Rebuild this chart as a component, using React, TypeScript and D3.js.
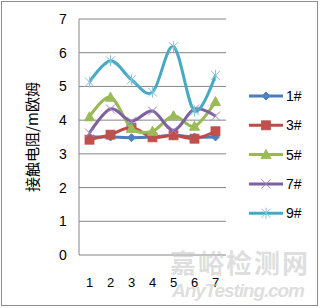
import React from "react";
import * as d3 from "d3";

const categories = ["1", "2", "3", "4", "5", "6", "7"];
const yTicks = [0, 1, 2, 3, 4, 5, 6, 7];
const s1 = [3.5, 3.5, 3.48, 3.5, 3.55, 3.5, 3.5];
const s3 = [3.42, 3.57, 3.78, 3.49, 3.55, 3.45, 3.67];
const s5 = [4.1, 4.68, 3.76, 3.67, 4.13, 3.82, 4.55];
const s7 = [3.62, 4.33, 3.97, 4.27, 3.7, 4.33, 4.12];
const s9 = [5.13, 5.76, 5.2, 4.83, 6.18, 4.27, 5.33];
const seriesNames = ["1#", "3#", "5#", "7#", "9#"];

const series = [
  { name: seriesNames[0], values: s1, color: "#4A7EBB", mcolor: "#4F81BD", marker: "diamond" },
  { name: seriesNames[1], values: s3, color: "#BE4B48", mcolor: "#C0504D", marker: "square" },
  { name: seriesNames[2], values: s5, color: "#98B954", mcolor: "#9BBB59", marker: "triangle" },
  { name: seriesNames[3], values: s7, color: "#7D60A0", mcolor: "#9C85C0", marker: "x" },
  { name: seriesNames[4], values: s9, color: "#46AAC5", mcolor: "#7FC6DA", marker: "star" },
];

function Marker({ type, x, y, color }: { type: string; x: number; y: number; color: string }) {
  if (type === "diamond") {
    const r = 4;
    return <path d={`M${x},${y - r}L${x + r},${y}L${x},${y + r}L${x - r},${y}Z`} fill={color} stroke={color} />;
  }
  if (type === "square") {
    const r = 4.5;
    return <rect x={x - r} y={y - r} width={2 * r} height={2 * r} fill={color} stroke={color} strokeWidth={0.8} />;
  }
  if (type === "triangle") {
    const r = 5;
    return <path d={`M${x},${y - r}L${x + r},${y + r * 0.8}L${x - r},${y + r * 0.8}Z`} fill={color} stroke={color} />;
  }
  if (type === "x") {
    const r = 4.5;
    return <path d={`M${x - r},${y - r}L${x + r},${y + r}M${x + r},${y - r}L${x - r},${y + r}`} stroke={color} strokeWidth={1} />;
  }
  const r = 4.5;
  return (
    <path
      d={`M${x - r},${y - r}L${x + r},${y + r}M${x + r},${y - r}L${x - r},${y + r}M${x},${y - r - 1}L${x},${y + r + 1}`}
      stroke={color}
      strokeWidth={1}
    />
  );
}

export default function App() {
  const left = 79, right = 226, top = 19, bottom = 255;
  const x = d3.scaleBand<string>().domain(categories).range([left, right]);
  const y = d3.scaleLinear().domain([0, 7]).range([bottom, top]);
  const cx = (c: string) => (x(c) as number) + x.bandwidth() / 2;
  const line = d3
    .line<number>()
    .x((_, i) => cx(categories[i]))
    .y((d) => y(d))
    .curve(d3.curveCatmullRom.alpha(0));

  const legendX = 249, legendY0 = 96, legendStep = 29.3;
  const font = "'Liberation Sans', Arial, sans-serif";

  return (
    <svg width={320} height={308} style={{ position: "absolute", left: 0, top: 0 }}>
      <rect x={0} y={0} width={320} height={308} fill="#fff" />
      <rect x={1.5} y={1.5} width={316} height={304} fill="none" stroke="#8c8c8c" strokeWidth={1} />
      {yTicks.map((t) => (
        <g key={t}>
          {t > 0 && <line x1={left} x2={right} y1={y(t)} y2={y(t)} stroke="#868686" strokeWidth={1} />}
          <text x={63} y={y(t) + 5} fontSize={14} fontFamily={font} textAnchor="middle" fill="#000">
            {t}
          </text>
        </g>
      ))}
      <line x1={left} x2={left} y1={top} y2={bottom} stroke="#868686" />
      <line x1={left} x2={right} y1={bottom} y2={bottom} stroke="#868686" />
      {categories.map((c) => (
        <text key={c} x={cx(c)} y={287} fontSize={13} fontFamily={font} textAnchor="middle">
          {c}
        </text>
      ))}
      <text
        transform={`translate(38,137) rotate(-90)`}
        fontSize={15}
        fontFamily="'Noto Sans CJK SC', sans-serif"
        textAnchor="middle"
      >
        接触电阻/m欧姆
      </text>
      {series.map((s) => (
        <g key={s.name}>
          <path d={line(s.values) || ""} fill="none" stroke={s.color} strokeWidth={3} strokeLinejoin="round" />
          {s.values.map((v, i) => (
            <Marker key={i} type={s.marker} x={cx(categories[i])} y={y(v)} color={s.mcolor} />
          ))}
        </g>
      ))}
      {series.map((s, i) => {
        const ly = legendY0 + i * legendStep;
        return (
          <g key={s.name}>
            <line x1={legendX} x2={legendX + 34} y1={ly} y2={ly} stroke={s.color} strokeWidth={3} />
            <Marker type={s.marker} x={legendX + 17} y={ly} color={s.mcolor} />
            <text x={legendX + 37} y={ly + 5} fontSize={14} fontFamily={font}>
              {s.name}
            </text>
          </g>
        );
      })}
      <text x={170} y={273} fontSize={26} fontWeight="bold" fontFamily="'Noto Sans CJK SC', sans-serif" fill="#c8c8c8" fillOpacity={0.6} textLength={138}>
        嘉峪检测网
      </text>
      <text x={172} y={297} fontSize={19} fontWeight="bold" fontStyle="italic" fontFamily={font} fill="#c8c8c8" fillOpacity={0.6} textLength={133}>
        AnyTesting.com
      </text>
    </svg>
  );
}
